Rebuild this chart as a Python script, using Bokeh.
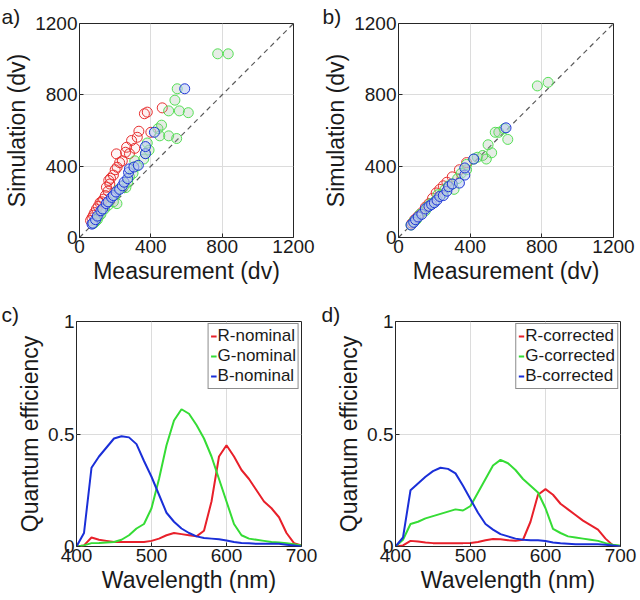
from bokeh.plotting import figure
from bokeh.layouts import column, row
from bokeh.models import Range1d, Title, Legend, LegendItem, FixedTicker
from bokeh.embed import file_html
from bokeh.resources import INLINE

FONT = "Liberation Sans"
RED = "#e8202a"
GREEN = "#35dc35"
BLUE = "#1a2fd8"
SC_RED = "#e83030"
SC_GREEN = "#55e055"
SC_BLUE = "#2038d8"

# ---------------- scatter data: panel a (nominal) ----------------
a_red_x = [62, 70, 78, 85, 95, 105, 115, 125, 135, 145, 151, 160, 164, 170, 174, 190, 200, 207, 211, 225,
           240, 258, 264, 280, 292, 310, 324, 333, 364, 380, 400, 464]
a_red_y = [95, 110, 125, 140, 160, 175, 195, 200, 215, 235, 282, 260, 320, 300, 332, 350, 380, 469, 394, 420,
           430, 478, 506, 470, 544, 500, 562, 596, 694, 703, 590, 727]
a_green_x = [80, 90, 100, 110, 120, 140, 160, 190, 200, 210, 220, 250, 260, 270, 280, 300, 310, 320, 360, 370,
             380, 390, 440, 450, 460, 500, 500, 535, 545, 548, 560, 610, 775, 834]
a_green_y = [80, 90, 100, 120, 130, 160, 180, 200, 240, 190, 270, 290, 280, 310, 340, 360, 430, 400, 440, 470,
             530, 490, 610, 570, 630, 570, 710, 770, 555, 834, 710, 700, 1030, 1030]
a_blue_x = [70, 75, 90, 100, 120, 130, 150, 160, 180, 190, 205, 225, 240, 250, 270, 275, 280, 305, 330, 370,
            370, 420, 590]
a_blue_y = [75, 80, 100, 120, 150, 160, 190, 200, 225, 235, 255, 270, 290, 310, 330, 365, 385, 395, 405, 470,
            510, 590, 834]

# ---------------- scatter data: panel b (corrected) ----------------
b_red_x = [75, 90, 110, 130, 150, 170, 190, 210, 230, 250, 270, 300, 340, 380]
b_red_y = [80, 100, 120, 140, 170, 190, 220, 250, 270, 290, 310, 340, 380, 420]
b_green_x = [70, 85, 100, 120, 150, 160, 180, 200, 220, 240, 260, 280, 310, 300, 330, 350, 380, 380, 420, 440,
             470, 490, 520, 500, 610, 540, 560, 590, 775, 835]
b_green_y = [70, 90, 100, 130, 150, 170, 190, 200, 240, 240, 270, 290, 270, 300, 330, 360, 380, 410, 440, 450,
             460, 440, 475, 520, 550, 590, 590, 610, 850, 870]
b_blue_x = [70, 85, 95, 110, 130, 150, 170, 185, 200, 215, 230, 250, 270, 280, 300, 340, 370, 370, 420, 600]
b_blue_y = [70, 85, 100, 115, 130, 160, 175, 185, 195, 210, 230, 235, 260, 285, 300, 305, 350, 390, 440, 615]

diag = [0, 1200]
sc_ticks = [0, 400, 800, 1200]

# ---------------- spectral data ----------------
wl = [400, 410, 420, 430, 440, 450, 460, 470, 480, 490, 500, 510, 520, 530, 540, 550, 560, 570, 580, 590,
      600, 610, 620, 630, 640, 650, 660, 670, 680, 690, 700]
r_nom = [0, 0.005, 0.04, 0.03, 0.025, 0.02, 0.02, 0.02, 0.02, 0.02, 0.025, 0.035, 0.05, 0.06, 0.055, 0.05,
         0.045, 0.07, 0.2, 0.4, 0.45, 0.4, 0.34, 0.3, 0.25, 0.2, 0.17, 0.13, 0.06, 0.015, 0.005]
g_nom = [0, 0.005, 0.015, 0.016, 0.018, 0.02, 0.03, 0.05, 0.08, 0.1, 0.17, 0.3, 0.45, 0.56, 0.61, 0.59, 0.54,
         0.48, 0.4, 0.3, 0.2, 0.1, 0.05, 0.035, 0.03, 0.025, 0.02, 0.018, 0.015, 0.01, 0.005]
b_nom = [0, 0.06, 0.35, 0.4, 0.44, 0.48, 0.49, 0.485, 0.455, 0.38, 0.31, 0.23, 0.15, 0.11, 0.08, 0.06, 0.045,
         0.038, 0.035, 0.032, 0.027, 0.02, 0.016, 0.014, 0.012, 0.012, 0.012, 0.012, 0.008, 0.004, 0]
r_cor = [0, 0.005, 0.025, 0.022, 0.018, 0.015, 0.015, 0.015, 0.015, 0.015, 0.016, 0.02, 0.028, 0.033, 0.032,
         0.028, 0.026, 0.03, 0.11, 0.23, 0.255, 0.23, 0.19, 0.165, 0.14, 0.115, 0.095, 0.075, 0.035, 0.005, 0.002]
g_cor = [0, 0.03, 0.1, 0.11, 0.125, 0.135, 0.145, 0.155, 0.165, 0.16, 0.18, 0.24, 0.3, 0.36, 0.385, 0.37, 0.34,
         0.3, 0.27, 0.24, 0.17, 0.078, 0.06, 0.045, 0.04, 0.035, 0.03, 0.025, 0.015, 0.008, 0.003]
b_cor = [0, 0.04, 0.25, 0.28, 0.31, 0.335, 0.35, 0.345, 0.325, 0.27, 0.21, 0.15, 0.1, 0.075, 0.055, 0.045,
         0.035, 0.03, 0.028, 0.028, 0.024, 0.018, 0.014, 0.012, 0.01, 0.01, 0.01, 0.01, 0.008, 0.004, 0]
wl_ticks = [400, 500, 600, 700]
qe_ticks = [0, 0.5, 1]
qe_tick_labels = ["0", "0.5", "1"]


def style(p, xlabel, ylabel):
    p.outline_line_color = "#262626"
    p.outline_line_width = 1
    p.background_fill_color = "white"
    p.border_fill_color = "white"
    for ax in (p.xaxis[0], p.yaxis[0]):
        ax.axis_line_color = None
        ax.major_tick_in = 4
        ax.major_tick_out = 0
        ax.major_tick_line_color = "#262626"
        ax.minor_tick_line_color = None
        ax.major_label_text_font = FONT
        ax.major_label_text_font_size = "19px"
        ax.major_label_text_color = "#1a1a1a"
        ax.axis_label_text_font = FONT
        ax.axis_label_text_font_size = "23px"
        ax.axis_label_text_font_style = "normal"
        ax.axis_label_text_color = "#1a1a1a"
        ax.major_label_standoff = 2
        ax.axis_label_standoff = 2
    p.xaxis.axis_label = xlabel
    p.yaxis.axis_label = ylabel
    p.grid.grid_line_color = "#dcdcdc"
    p.grid.grid_line_width = 1


def add_panel_label(p, text, dx_px):
    p.add_layout(Title(text=text, align="left", offset=-dx_px, standoff=-9,
                       text_font=FONT, text_font_size="21px", text_font_style="normal",
                       text_line_height=1.0, text_color="#1a1a1a"), "above")


def scatter_panel(label, rx, ry, gx, gy, bx, by, left, fw, right, dx):
    p = figure(width=left + fw + right, height=300, output_backend="svg", toolbar_location=None,
               x_range=Range1d(0, 1200), y_range=Range1d(0, 1200),
               min_border_left=left, min_border_right=right, min_border_top=23, min_border_bottom=63)
    style(p, "Measurement (dv)", "Simulation (dv)")
    p.xaxis.ticker = FixedTicker(ticks=sc_ticks)
    p.yaxis.ticker = FixedTicker(ticks=sc_ticks)
    p.line(diag, diag, line_color="#5a5a5a", line_dash="5 4", line_width=1.2)
    p.scatter(rx, ry, size=10, marker="circle", line_color=SC_RED, fill_color=SC_RED, fill_alpha=0.04, line_width=1)
    p.scatter(gx, gy, size=10, marker="circle", line_color=SC_GREEN, fill_color="#9ab89a", fill_alpha=0.25, line_width=1)
    p.scatter(bx, by, size=10, marker="circle", line_color=SC_BLUE, fill_color="#b8c8f0", fill_alpha=0.55, line_width=1)
    add_panel_label(p, label, dx)
    return p


def qe_panel(label, r, g, b, names, left, fw, right, dx):
    p = figure(width=left + fw + right, height=300, output_backend="svg", toolbar_location=None,
               x_range=Range1d(400, 700), y_range=Range1d(0, 1),
               min_border_left=left, min_border_right=right, min_border_top=21, min_border_bottom=54)
    style(p, "Wavelength (nm)", "Quantum efficiency")
    p.xaxis.ticker = FixedTicker(ticks=wl_ticks)
    p.yaxis.ticker = FixedTicker(ticks=qe_ticks)
    p.yaxis.major_label_overrides = {t: s for t, s in zip(qe_ticks, qe_tick_labels)}
    lr = p.line(wl, r, line_color=RED, line_width=2)
    lg = p.line(wl, g, line_color=GREEN, line_width=2)
    lb = p.line(wl, b, line_color=BLUE, line_width=2)
    leg = Legend(items=[LegendItem(label=names[0], renderers=[lr]),
                        LegendItem(label=names[1], renderers=[lg]),
                        LegendItem(label=names[2], renderers=[lb])],
                 location="top_right", margin=2, padding=2, spacing=0,
                 glyph_width=6, glyph_height=20, label_standoff=1, label_height=20,
                 label_text_font=FONT, label_text_font_size="17px", label_text_color="#1a1a1a",
                 border_line_color="#1a1a1a", border_line_width=1, background_fill_alpha=1)
    p.add_layout(leg)
    add_panel_label(p, label, dx)
    return p


pa = scatter_panel("a)", a_red_x, a_red_y, a_green_x, a_green_y, a_blue_x, a_blue_y, 79, 214, 27, 78)
pb = scatter_panel("b)", b_red_x, b_red_y, b_green_x, b_green_y, b_blue_x, b_blue_y, 77, 216, 27, 76)
pc = qe_panel("c)", r_nom, g_nom, b_nom, ["R-nominal", "G-nominal", "B-nominal"], 76, 225, 19, 75)
pd = qe_panel("d)", r_cor, g_cor, b_cor, ["R-corrected", "G-corrected", "B-corrected"], 75, 225, 20, 74)

layout = column(row(pa, pb), row(pc, pd))
open("out.html", "w").write(file_html(layout, INLINE))
